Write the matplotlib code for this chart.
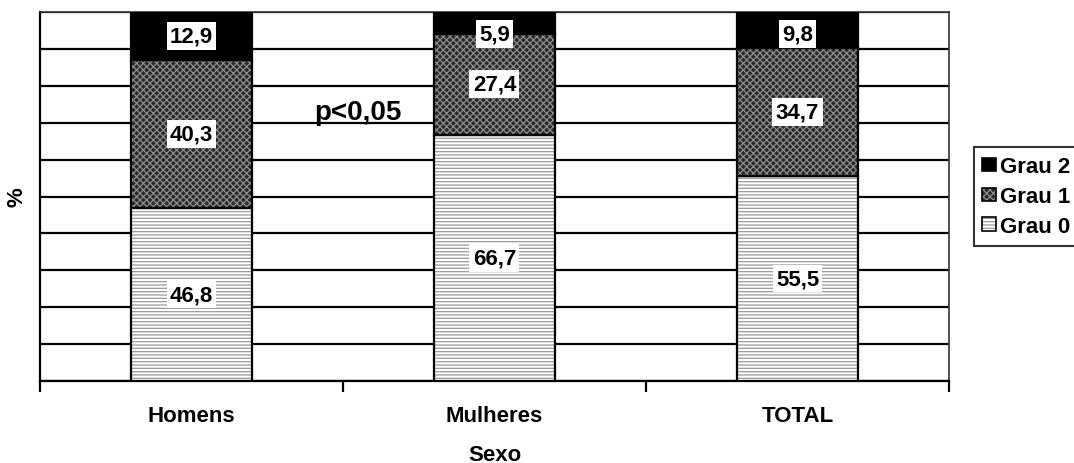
import matplotlib
matplotlib.use("Agg")
import matplotlib.pyplot as plt
from matplotlib.patches import Patch, Rectangle
from matplotlib.legend_handler import HandlerBase
import numpy as np

plt.rcParams['font.family'] = ['Liberation Sans', 'DejaVu Sans']
plt.rcParams['hatch.linewidth'] = 0.9

categories = ["Homens", "Mulheres", "TOTAL"]
grau0 = [46.8, 66.7, 55.5]
grau1 = [40.3, 27.4, 34.7]
grau2 = [12.9, 5.9, 9.8]
series_names = ["Grau 0", "Grau 1", "Grau 2"]

# fill styles: (face colour, hatch colour, hatch pattern)
styles = [("white", "#9a9a9a", "-----"),
          ("#2a2a2a", "#8c8c8c", "xxxxx"),
          ("black", "black", None)]

fig = plt.figure(figsize=(10.74, 4.64), dpi=100)
ax = fig.add_axes([0.0372, 0.1767, 0.8464, 0.7953])

x = np.arange(len(categories))
width = 0.4

bottoms = [np.zeros(3), np.array(grau0), np.array(grau0) + np.array(grau1)]
for vals, bot, (fc, hc, hatch) in zip((grau0, grau1, grau2), bottoms, styles):
    ax.bar(x, vals, width, bottom=bot, color=fc, edgecolor=hc, linewidth=0,
           hatch=hatch, zorder=3)
    ax.bar(x, vals, width, bottom=bot, fill=False, edgecolor="black",
           linewidth=1.6, zorder=4)

# segment value labels
def fmt(v):
    return f"{v:.1f}".replace(".", ",")

for vals, bot in zip((grau0, grau1, grau2), bottoms):
    for xi, v, b in zip(x, vals, bot):
        yc = min(b + v / 2, 94.0)
        ax.text(xi, yc, fmt(v), ha="center", va="center", fontsize=16,
                fontweight="bold", zorder=5,
                bbox=dict(boxstyle="square,pad=0.15", fc="white", ec="none"))

ax.text(0.55, 73.0, "p<0,05", ha="center", va="center", fontsize=20,
        fontweight="bold", zorder=5)

ax.set_xlim(-0.5, 2.5)
ax.set_ylim(0, 100)
ax.set_yticks(np.arange(0, 101, 10))
ax.yaxis.grid(True, color="black", linewidth=1.6, zorder=0)
ax.set_axisbelow(True)
ax.tick_params(axis="y", length=0, labelleft=False)

ax.set_xticks([-0.5, 0.5, 1.5, 2.5])
ax.set_xticklabels([])
ax.tick_params(axis="x", which="major", length=8, width=1.6, direction="out")
ax.set_xticks(x, minor=True)
ax.set_xticklabels(categories, minor=True, fontsize=16, fontweight="bold")
ax.tick_params(axis="x", which="minor", length=0, pad=17)

for s in ("left", "bottom"):
    ax.spines[s].set_linewidth(1.6)
for s in ("right", "top"):
    ax.spines[s].set_linewidth(1.2)
    ax.spines[s].set_color("#333333")

ax.set_xlabel("Sexo", fontsize=16, fontweight="bold", labelpad=13)
ax.set_ylabel("%", fontsize=16, fontweight="bold", labelpad=9)


class SwatchHandler(HandlerBase):
    def create_artists(self, legend, orig_handle, xdescent, ydescent,
                       width, height, fontsize, trans):
        fc, hc, hatch = orig_handle.style
        size = min(width, height)
        x0 = -xdescent + (width - size) / 2
        y0 = -ydescent + (height - size) / 2
        r1 = Rectangle((x0, y0), size, size, facecolor=fc, edgecolor=hc,
                       linewidth=0, hatch=hatch, transform=trans)
        r2 = Rectangle((x0, y0), size, size, fill=False, edgecolor="black",
                       linewidth=1.2, transform=trans)
        return [r1, r2]


handles = []
for st in reversed(styles):
    h = Patch()
    h.style = st
    handles.append(h)

leg = ax.legend(handles, list(reversed(series_names)),
                handler_map={Patch: SwatchHandler()},
                loc="center left", bbox_to_anchor=(1.027, 0.5), frameon=True,
                fancybox=False, edgecolor="black",
                prop={"weight": "bold", "size": 16}, handlelength=0.6,
                handleheight=0.6, handletextpad=0.2, borderpad=0.4,
                labelspacing=0.4, borderaxespad=0)
leg.get_frame().set_linewidth(1.5)

fig.savefig("out.png", dpi=100)
